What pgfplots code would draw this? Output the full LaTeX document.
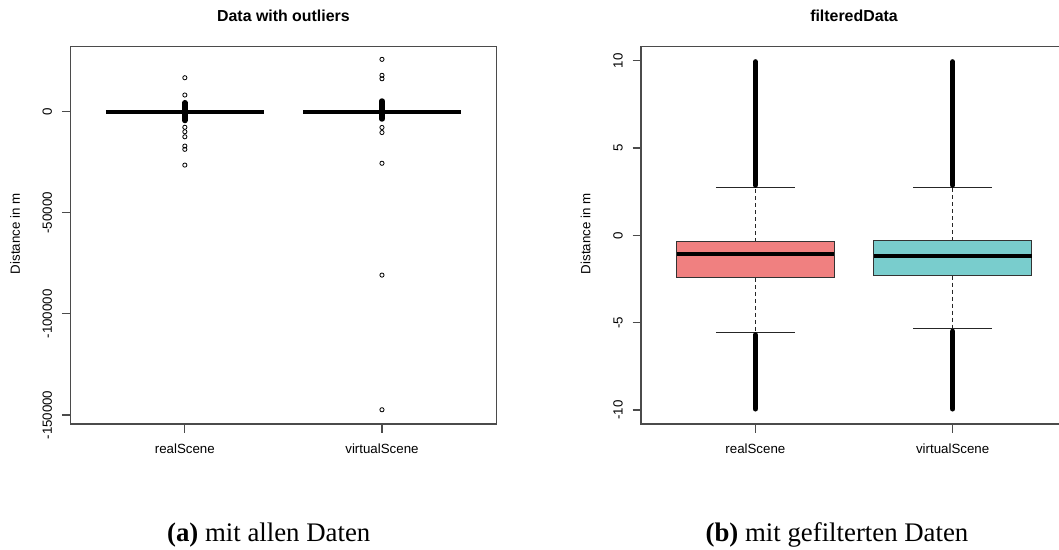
\documentclass[border=0pt]{standalone}
\usepackage{fontspec}
\setmainfont{Liberation Serif}
\newfontfamily\arial{Liberation Sans}
\usepackage{pgfplots}
\pgfplotsset{compat=1.18}
\definecolor{realc}{RGB}{240,128,128}
\definecolor{virtc}{RGB}{121,205,205}
\definecolor{framec}{RGB}{75,75,75}
\pgfplotsset{
  rpanel/.style={
    scale only axis, height=377.3pt,
    anchor=south west,
    xmin=0.42, xmax=2.58,
    axis line style={framec, line width=1.1pt},
    tick style={framec, line width=1.1pt},
    tick align=outside,
    major tick length=8.5pt,
    xtick pos=left, ytick pos=left,
    scaled y ticks=false,
    xtick={1,2}, xticklabels={realScene, virtualScene},
    ticklabel style={font=\arial\fontsize{13.3}{16}\selectfont, text=black},
    xticklabel style={anchor=base, inner sep=0pt},
    xticklabel shift=20.5pt,
    yticklabel style={rotate=90, anchor=base, inner sep=0pt},
    yticklabel shift=10pt,
    ylabel={Distance in m},
    every axis y label/.style={at={(axis description cs:-0.119,0.504)}, rotate=90, anchor=base, inner sep=0pt, font=\arial\fontsize{13.3}{16}\selectfont},
    title style={at={(0.5,1)}, anchor=base, yshift=19pt, inner sep=0pt, font=\arial\bfseries\fontsize{15.9}{18}\selectfont},
    outl/.style={only marks, mark=o, black, mark size=2.1pt, mark options={line width=0.8pt}},
    whisk/.style={black!85, line width=1pt, dash pattern=on 4pt off 3pt},
    capl/.style={black!85, line width=1pt},
    med/.style={black, line width=3.7pt},
    dense/.style={black, line width=5.5pt, line cap=round},
  }
}
\begin{document}
\begin{tikzpicture}
\path[use as bounding box] (0,0) rectangle (1059pt,-549pt);
% ---------- left panel ----------
\begin{axis}[rpanel, at={(70.5pt,-424pt)}, width=425.8pt,
  title={Data with outliers},
  ymin=-154450, ymax=32150,
  ytick={-150000,-100000,-50000,0},
  yticklabels={-150000,-100000,-50000,0}]
% realScene
\addplot[dense] coordinates {(1,4450) (1,-4350)};
\addplot[med] coordinates {(0.6,0) (1.4,0)};
\addplot[outl] coordinates {(1,16800) (1,8260) (1,-7700) (1,-9900) (1,-12400) (1,-17000) (1,-18600) (1,-26400)};
% virtualScene
\addplot[dense] coordinates {(2,5290) (2,-3600)};
\addplot[med] coordinates {(1.6,0) (2.4,0)};
\addplot[outl] coordinates {(2,25900) (2,18000) (2,16300) (2,-7800) (2,-10300) (2,-25500) (2,-80800) (2,-147400)};
\end{axis}
% ---------- right panel ----------
\begin{axis}[rpanel, at={(641pt,-424pt)}, width=426pt,
  title={filteredData},
  ymin=-10.8, ymax=10.8,
  ytick={-10,-5,0,5,10},
  yticklabels={-10,-5,0,5,10}]
% realScene
\addplot[whisk] coordinates {(1,-0.377) (1,2.72)};
\addplot[whisk] coordinates {(1,-2.43) (1,-5.54)};
\addplot[draw=black!80, line width=1pt, fill=realc] coordinates {(0.6,-2.43) (1.4,-2.43) (1.4,-0.377) (0.6,-0.377)} -- cycle;
\addplot[med] coordinates {(0.6,-1.06) (1.4,-1.06)};
\addplot[capl] coordinates {(0.8,2.72) (1.2,2.72)};
\addplot[capl] coordinates {(0.8,-5.54) (1.2,-5.54)};
\addplot[dense] coordinates {(1,2.88) (1,9.93)};
\addplot[dense] coordinates {(1,-5.70) (1,-9.93)};
% virtualScene
\addplot[whisk] coordinates {(2,-0.30) (2,2.72)};
\addplot[whisk] coordinates {(2,-2.30) (2,-5.35)};
\addplot[draw=black!80, line width=1pt, fill=virtc] coordinates {(1.6,-2.30) (2.4,-2.30) (2.4,-0.30) (1.6,-0.30)} -- cycle;
\addplot[med] coordinates {(1.6,-1.20) (2.4,-1.20)};
\addplot[capl] coordinates {(1.8,2.72) (2.2,2.72)};
\addplot[capl] coordinates {(1.8,-5.35) (2.2,-5.35)};
\addplot[dense] coordinates {(2,2.88) (2,9.93)};
\addplot[dense] coordinates {(2,-5.50) (2,-9.93)};
\end{axis}
% captions
\node[anchor=base, font=\fontsize{26.8}{30}\selectfont] at (268.7pt,-541pt) {\textbf{(a)} mit allen Daten};
\node[anchor=base, font=\fontsize{26.8}{30}\selectfont] at (837pt,-541pt) {\textbf{(b)} mit gefilterten Daten};
\end{tikzpicture}
\end{document}
